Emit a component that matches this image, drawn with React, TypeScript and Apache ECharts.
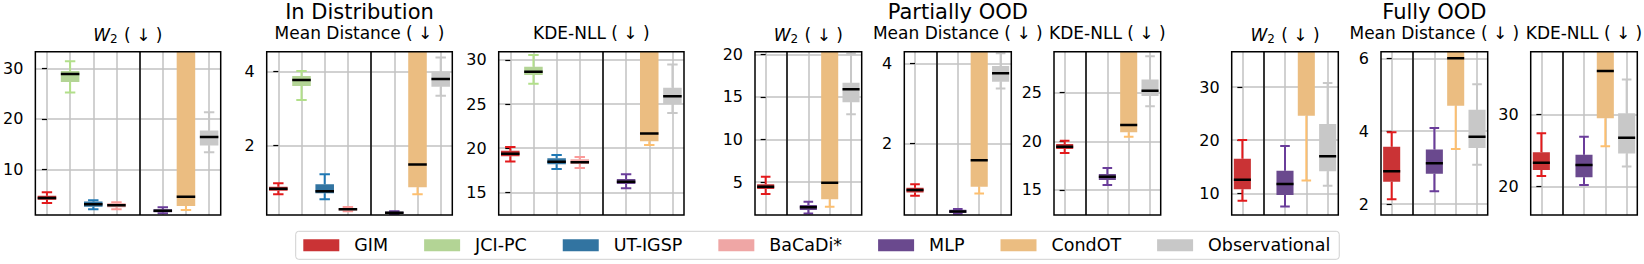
import React, { useEffect, useRef } from 'react';
import * as echarts from 'echarts';

const FONT = 'DejaVu Sans';

const METHODS = ['GIM', 'JCI-PC', 'UT-IGSP', 'BaCaDi*', 'MLP', 'CondOT', 'Observational'];
const OOD_METHODS = ['GIM', 'MLP', 'CondOT', 'Observational'];

const FILL: Record<string, string> = {
  GIM: '#ca3335',
  'JCI-PC': '#b3d495',
  'UT-IGSP': '#3274a1',
  'BaCaDi*': '#efa6a5',
  MLP: '#6a498e',
  CondOT: '#ebbd81',
  Observational: '#c8c8c8',
};
const LINE: Record<string, string> = {
  GIM: '#e31a1c',
  'JCI-PC': '#b2df8a',
  'UT-IGSP': '#1f78b4',
  'BaCaDi*': '#fb9a99',
  MLP: '#6a3d9a',
  CondOT: '#fdbf6f',
  Observational: '#c8c8c8',
};

// [lower whisker, q1, median, q3, upper whisker]
const idW2 = [
  [3.33, 3.95, 4.32, 4.75, 5.45],
  [25.2, 27.3, 28.9, 29.5, 31.4],
  [2.08, 2.6, 3.07, 3.6, 3.86],
  [2.1, 2.5, 2.87, 3.3, 3.5],
  [1.3, 1.5, 1.8, 2.1, 2.48],
  [1.94, 2.73, 4.58, 45, 90],
  [13.4, 14.7, 16.4, 17.7, 21.3],
];
const idMeanDist = [
  [0.686, 0.78, 0.838, 0.89, 0.984],
  [3.235, 3.61, 3.776, 3.88, 4.02],
  [0.551, 0.713, 0.768, 0.957, 1.227],
  [0.23, 0.25, 0.28, 0.31, 0.34],
  [0.15, 0.165, 0.19, 0.215, 0.23],
  [0.686, 0.876, 1.49, 6, 10],
  [3.35, 3.59, 3.8, 4.0, 4.38],
];
const idKde = [
  [18.5, 19.1, 19.38, 19.7, 20.15],
  [27.3, 28.3, 28.67, 29.24, 30.57],
  [17.64, 18.17, 18.47, 18.85, 19.23],
  [17.76, 18.2, 18.4, 18.75, 19.0],
  [15.45, 15.94, 16.2, 16.5, 17.04],
  [20.36, 20.8, 21.66, 40, 60],
  [24.0, 25.0, 25.9, 26.85, 29.5],
];
const poodW2 = [
  [3.59, 4.18, 4.45, 4.73, 5.62],
  [1.31, 1.72, 2.03, 2.3, 2.69],
  [2.1, 2.97, 4.92, 30, 50],
  [12.95, 14.36, 15.88, 16.66, 20.1],
];
const poodMeanDist = [
  [0.69, 0.77, 0.834, 0.89, 0.98],
  [0.24, 0.26, 0.3, 0.34, 0.36],
  [0.75, 0.915, 1.58, 6, 10],
  [3.37, 3.54, 3.75, 3.93, 4.25],
];
const poodKde = [
  [18.8, 19.2, 19.45, 19.72, 20.06],
  [15.5, 16.02, 16.37, 16.64, 17.26],
  [20.47, 20.93, 21.68, 40, 60],
  [23.6, 24.66, 25.18, 26.34, 28.74],
];
const foodW2 = [
  [8.6, 10.75, 12.57, 16.5, 20.06],
  [7.48, 9.68, 11.75, 14.26, 18.9],
  [12.4, 24.6, 45, 60, 90],
  [11.43, 14.15, 16.98, 23.08, 30.8],
];
const foodMeanDist = [
  [2.13, 2.61, 2.9, 3.57, 3.97],
  [2.35, 2.83, 3.12, 3.5, 4.09],
  [3.51, 4.7, 6.0, 8, 12],
  [3.08, 3.54, 3.85, 4.59, 5.29],
];
const foodKde = [
  [21.48, 22.3, 23.3, 24.74, 27.4],
  [20.23, 21.3, 23.0, 24.4, 26.9],
  [25.6, 29.45, 36.0, 45, 60],
  [22.77, 24.6, 26.76, 30.14, 34.8],
];

const ticksIdW2 = [10, 20, 30];
const ticksIdMD = [2, 4];
const ticksIdKde = [15, 20, 25, 30];
const ticksPoodW2 = [5, 10, 15, 20];
const ticksPoodMD = [2, 4];
const ticksPoodKde = [15, 20, 25];
const ticksFoodW2 = [10, 20, 30];
const ticksFoodMD = [2, 4, 6];
const ticksFoodKde = [20, 30];

const ID_POS = [0, 1, 2, 3, 5, 6, 7];
const OOD_POS = [0, 2, 3, 4];

const GROUPS = ['In Distribution', 'Partially OOD', 'Fully OOD'];

const W2 = '{w|W}{s|2} ( ↓ )';
const MD = 'Mean Distance ( ↓ )';
const KDE = 'KDE-NLL ( ↓ )';

const TOP = 51.7;
const HEIGHT = 163.3;

const panels = [
  { title: W2, methods: METHODS, pos: ID_POS, divider: 4, xmax: 7.5, data: idW2, ymin: 0.95, ymax: 33.3, ticks: ticksIdW2, left: 35, width: 185.7 },
  { title: MD, methods: METHODS, pos: ID_POS, divider: 4, xmax: 7.5, data: idMeanDist, ymin: 0.127, ymax: 4.54, ticks: ticksIdMD, left: 266.7, width: 185.6, group: 0 },
  { title: KDE, methods: METHODS, pos: ID_POS, divider: 4, xmax: 7.5, data: idKde, ymin: 12.43, ymax: 30.94, ticks: ticksIdKde, left: 498.7, width: 185.3 },
  { title: W2, methods: OOD_METHODS, pos: OOD_POS, divider: 1, xmax: 4.5, data: poodW2, ymin: 1.13, ymax: 20.3, ticks: ticksPoodW2, left: 755, width: 106.7 },
  { title: MD, methods: OOD_METHODS, pos: OOD_POS, divider: 1, xmax: 4.5, data: poodMeanDist, ymin: 0.21, ymax: 4.29, ticks: ticksPoodMD, left: 904.3, width: 107, group: 1 },
  { title: KDE, methods: OOD_METHODS, pos: OOD_POS, divider: 1, xmax: 4.5, data: poodKde, ymin: 12.43, ymax: 29.2, ticks: ticksPoodKde, left: 1054, width: 106.7 },
  { title: W2, methods: OOD_METHODS, pos: OOD_POS, divider: 1, xmax: 4.5, data: foodW2, ymin: 5.9, ymax: 36.7, ticks: ticksFoodW2, left: 1231.7, width: 106.6 },
  { title: MD, methods: OOD_METHODS, pos: OOD_POS, divider: 1, xmax: 4.5, data: foodMeanDist, ymin: 1.7, ymax: 6.18, ticks: ticksFoodMD, left: 1381, width: 106.7, group: 2 },
  { title: KDE, methods: OOD_METHODS, pos: OOD_POS, divider: 1, xmax: 4.5, data: foodKde, ymin: 16.08, ymax: 38.66, ticks: ticksFoodKde, left: 1530.7, width: 106.6 },
];

function makeRender(method: string) {
  return (params: any, api: any) => {
    const x = api.value(0);
    const lo = api.value(1), q1 = api.value(2), med = api.value(3), q3 = api.value(4), hi = api.value(5);
    const pLo = api.coord([x, lo]);
    const pQ1 = api.coord([x, q1]);
    const pMed = api.coord([x, med]);
    const pQ3 = api.coord([x, q3]);
    const pHi = api.coord([x, hi]);
    const bw = api.size([0.8, 0])[0];
    const cw = api.size([0.45, 0])[0];
    const cx = pMed[0];
    const lineStyle = { stroke: LINE[method], lineWidth: 2 };
    return {
      type: 'group',
      children: [
        { type: 'line', shape: { x1: cx, y1: pLo[1], x2: cx, y2: pQ1[1] }, style: lineStyle },
        { type: 'line', shape: { x1: cx, y1: pQ3[1], x2: cx, y2: pHi[1] }, style: lineStyle },
        { type: 'line', shape: { x1: cx - cw / 2, y1: pLo[1], x2: cx + cw / 2, y2: pLo[1] }, style: lineStyle },
        { type: 'line', shape: { x1: cx - cw / 2, y1: pHi[1], x2: cx + cw / 2, y2: pHi[1] }, style: lineStyle },
        { type: 'rect', shape: { x: cx - bw / 2, y: pQ3[1], width: bw, height: pQ1[1] - pQ3[1] }, style: { fill: FILL[method] } },
        { type: 'line', shape: { x1: cx - bw / 2, y1: pMed[1], x2: cx + bw / 2, y2: pMed[1] }, style: { stroke: '#000', lineWidth: 2.5 } },
      ],
    };
  };
}

function buildOption() {
  const grid: any[] = [];
  const xAxis: any[] = [];
  const yAxis: any[] = [];
  const series: any[] = [];
  const title: any[] = [];
  const gridColor = '#c2c2c2';

  panels.forEach((p, i) => {
    grid.push({
      left: p.left, top: TOP, width: p.width, height: HEIGHT,
      show: true, borderColor: '#000', borderWidth: 1.5, backgroundColor: 'transparent', z: 10,
    });
    xAxis.push({
      type: 'value', gridIndex: i, min: -0.5, max: p.xmax,
      axisLine: { show: false },
      axisTick: { show: false, customValues: [...p.pos, p.divider] },
      axisLabel: { show: false },
      splitLine: { show: true, lineStyle: { color: gridColor, width: 1.5 } },
    });
    yAxis.push({
      type: 'value', gridIndex: i, min: p.ymin, max: p.ymax,
      axisLine: { show: false },
      axisTick: { show: true, length: 5, lineStyle: { color: '#000', width: 1.2 }, customValues: p.ticks },
      axisLabel: { show: true, customValues: p.ticks, color: '#000', fontSize: 16, fontFamily: FONT, margin: 12 },
      splitLine: { show: true, lineStyle: { color: gridColor, width: 1.5 } },
    });
    title.push({
      text: p.title,
      left: p.left + p.width / 2,
      top: 24,
      textAlign: 'center',
      padding: 0,
      textStyle: {
        fontSize: 17, fontWeight: 'normal', color: '#000', fontFamily: FONT,
        rich: {
          w: { fontSize: 17, fontStyle: 'italic', fontFamily: FONT, color: '#000' },
          s: { fontSize: 12, fontFamily: FONT, color: '#000', padding: [9, 1, 0, 0] },
        },
      },
    });
    if ((p as any).group !== undefined) {
      title.push({
        text: GROUPS[(p as any).group],
        left: p.left + p.width / 2,
        top: 1,
        textAlign: 'center',
        padding: 0,
        textStyle: { fontSize: 21, fontWeight: 'normal', color: '#000', fontFamily: FONT },
      });
    }
    p.methods.forEach((m, j) => {
      const s: any = {
        type: 'custom', name: m, xAxisIndex: i, yAxisIndex: i, clip: true, silent: true,
        itemStyle: { color: FILL[m] },
        encode: { x: 0, y: [1, 2, 3, 4, 5] },
        data: [[p.pos[j], ...p.data[j]]],
        renderItem: makeRender(m),
      };
      if (j === 0) {
        s.markLine = {
          silent: true, symbol: 'none', label: { show: false },
          lineStyle: { color: '#000', width: 1.5, type: 'solid' },
          data: [{ xAxis: p.divider }],
        };
      }
      series.push(s);
    });
  });

  return {
    animation: false,
    textStyle: { fontFamily: FONT },
    title,
    grid,
    xAxis,
    yAxis,
    series,
    legend: {
      left: 295.7, top: 231.3,
      padding: [5, 9, 5, 7.6],
      itemGap: 36, itemWidth: 36, itemHeight: 12,
      borderColor: '#d0d0d0', borderWidth: 1, borderRadius: 3,
      selectedMode: false,
      textStyle: { fontSize: 17.5, color: '#000', fontFamily: FONT, padding: [0, 0, 0, 10] },
      data: METHODS.map((m) => ({ name: m, icon: 'rect', itemStyle: { color: FILL[m] } })),
    },
  };
}

export default function App() {
  const ref = useRef<HTMLDivElement>(null);
  useEffect(() => {
    if (!ref.current) return;
    const chart = echarts.init(ref.current, null, { renderer: 'svg' });
    chart.setOption(buildOption() as any);
    return () => chart.dispose();
  }, []);
  return (
    <div
      ref={ref}
      style={{ position: 'fixed', left: 0, top: 0, width: 1644, height: 264, background: '#fff' }}
    />
  );
}
